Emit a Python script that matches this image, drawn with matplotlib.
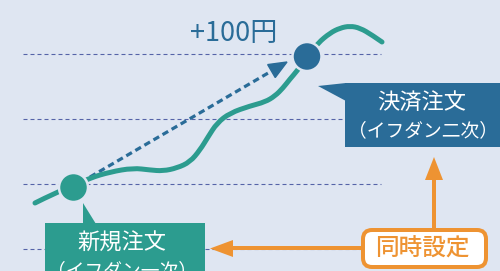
import matplotlib
matplotlib.use("Agg")
import matplotlib.pyplot as plt
import numpy as np
from matplotlib.patches import Circle, Rectangle, Polygon, FancyBboxPatch, PathPatch
from matplotlib.path import Path

plt.rcParams['font.family'] = ['Noto Sans CJK JP', 'DejaVu Sans']
plt.rcParams['lines.scale_dashes'] = False

# ---- data (pixel-space illustration coordinates) ----
price_levels = [54, 119, 184, 249]
curve_x = [35, 55, 73, 90, 110, 133, 150, 163, 177, 190, 200, 208, 217, 230, 250,
           265, 275, 283, 290, 297, 307, 318, 330, 340, 350, 360, 372, 382]
curve_y = [203, 193, 186, 178, 172, 168, 170, 171, 168, 162, 150, 137, 123, 113, 106,
           102, 96, 88, 79, 71, 57, 43, 33, 28, 26, 28, 35, 42]
entry_point = (73.5, 187.5)
exit_point = (307, 56.5)
profit_label = "+100円"
entry_label = ["新規注文", "（イフダン一次）"]
exit_label = ["決済注文", "（イフダン二次）"]
link_label = "同時設定"

BG = "#dfe6f2"
BLUE = "#2a6c98"
TEAL = "#2c9c8f"
ORANGE = "#ee9332"
GRID = "#5563a8"

fig = plt.figure(figsize=(5, 2.71), dpi=100, facecolor=BG)
ax = fig.add_axes([0, 0, 1, 1])
ax.set_xlim(0, 500)
ax.set_ylim(271, 0)
ax.axis("off")
ax.set_facecolor(BG)

def px(v):
    return v * 72 / 100.0

# dashed horizontal levels
for y in price_levels:
    ax.plot([23, 381], [y, y], color=GRID, lw=px(1.1), dashes=(px(4), px(3)), zorder=1)

# price curve: smooth quadratic path through the read points (points act as control points)
pts = list(zip(curve_x, curve_y))
verts = [pts[0]]
codes = [Path.MOVETO]
for i in range(1, len(pts) - 1):
    mid = ((pts[i][0] + pts[i + 1][0]) / 2, (pts[i][1] + pts[i + 1][1]) / 2)
    if i == len(pts) - 2:
        mid = pts[-1]
    verts += [pts[i], mid]
    codes += [Path.CURVE3, Path.CURVE3]
ax.add_patch(PathPatch(Path(verts, codes), fc="none", ec=TEAL, lw=px(5),
                       capstyle="round", joinstyle="round", zorder=3))

# dashed arrow from entry to exit
start = np.array([90.0, 177.0])
tip = np.array([287.0, 62.0])
d = tip - start
u = d / np.linalg.norm(d)
perp = np.array([u[1], -u[0]])
head_len, head_w = 18, 7.5
base = tip - head_len * u
ax.plot([start[0], base[0]], [start[1], base[1]], color=BLUE, lw=px(3.2),
        dashes=(px(6.5), px(4)), zorder=2)
ax.add_patch(Polygon([tip, base + head_w * perp, base - head_w * perp],
                     closed=True, color=BLUE, zorder=2))

# circles
ax.add_patch(Circle(entry_point, 14.5, fc=TEAL, ec=BG, lw=px(2.5), zorder=5))
ax.add_patch(Circle(exit_point, 14.5, fc=BLUE, ec=BG, lw=px(2.5), zorder=5))

# profit label
ax.text(190, 41, profit_label, color=BLUE, fontsize=19.5, ha="left", va="baseline", zorder=6)

# exit box
ax.add_patch(Rectangle((345, 83), 160, 64, fc=BLUE, ec="none", zorder=4))
ax.add_patch(Polygon([(318, 86), (346, 83), (346, 101)], closed=True, fc=BLUE, ec="none", zorder=4))
ax.text(422, 103, exit_label[0], color="white", fontsize=16, ha="center", va="center", zorder=6)
ax.text(423, 131, exit_label[1], color="white", fontsize=13.5, ha="center", va="center", zorder=6)

# entry box
ax.add_patch(Rectangle((45, 223), 160, 60, fc=TEAL, ec="none", zorder=4))
ax.add_patch(Polygon([(83, 203), (83, 224), (96, 224)], closed=True, fc=TEAL, ec="none", zorder=4))
ax.text(122, 243, entry_label[0], color="white", fontsize=16, ha="center", va="center", zorder=6)
ax.text(122, 271, entry_label[1], color="white", fontsize=13.5, ha="center", va="center", zorder=6)

# orange arrows
ax.plot([362, 231], [248, 248], color=ORANGE, lw=px(4), zorder=3)
ax.add_patch(Polygon([(210, 248.5), (233, 240), (233, 257)], closed=True, fc=ORANGE, ec="none", zorder=3))
ax.plot([434, 434], [230, 178], color=ORANGE, lw=px(4), zorder=3)
ax.add_patch(Polygon([(434, 157), (425, 180), (443, 180)], closed=True, fc=ORANGE, ec="none", zorder=3))

# simultaneous setting box
ax.add_patch(FancyBboxPatch((363, 230), 123, 37, boxstyle="round,pad=0,rounding_size=9",
                            fc="white", ec=ORANGE, lw=px(4), zorder=5))
ax.text(422, 249, link_label, color=ORANGE, fontsize=17, fontweight="medium",
        ha="center", va="center", zorder=6)

fig.savefig("out.png", dpi=100, facecolor=BG)
